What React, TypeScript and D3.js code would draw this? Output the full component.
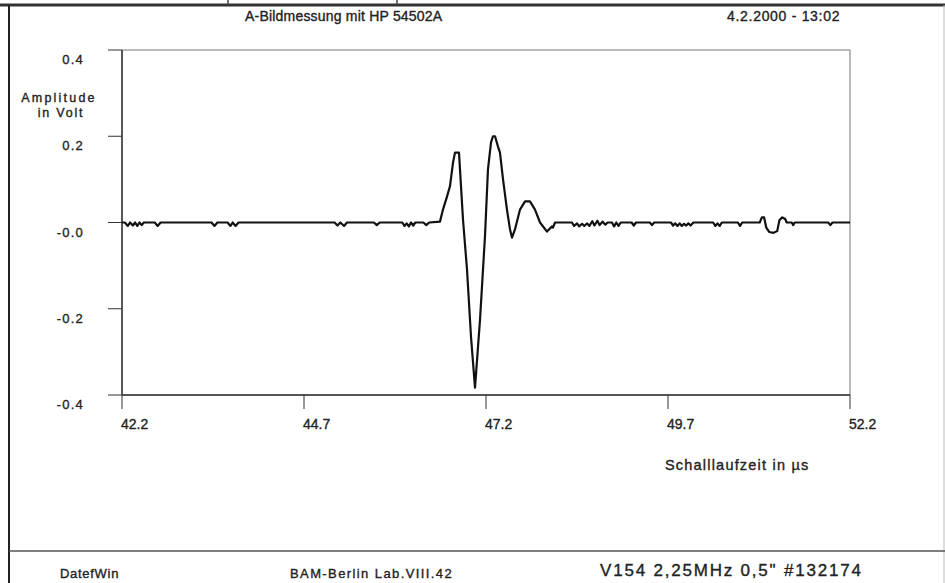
import { useEffect, useRef } from 'react';
import * as d3 from 'd3';

// A-scan (ultrasonic echo) as plotted by DatefWin.

const WIDTH = 945;
const HEIGHT = 583;
const PLOT = { left: 122, right: 850, top: 50, bottom: 395 } as const;

const X_TICKS = [42.2, 44.7, 47.2, 49.7, 52.2];
const Y_TICKS = [0.4, 0.2, 0, -0.2, -0.4];
const Y_TICK_LABELS = ['0.4', '0.2', '-0.0', '-0.2', '-0.4'];

// [time in µs, amplitude in V]
const PRE_NOISE: [number, number][] = [
  [42.2, 0], [42.24, 0], [42.28, -0.008], [42.31, 0], [42.35, -0.007], [42.38, 0],
  [42.41, -0.008], [42.44, 0], [42.47, -0.006], [42.5, 0],
  [42.65, 0], [42.69, -0.008], [42.73, 0],
  [43.43, 0], [43.47, -0.008], [43.51, 0],
  [43.65, 0], [43.69, -0.008], [43.72, 0], [43.76, -0.008], [43.8, 0],
  [45.12, 0], [45.16, -0.007], [45.2, 0], [45.25, -0.008], [45.29, 0],
  [45.66, 0], [45.7, -0.006], [45.74, 0],
  [46.05, 0], [46.08, -0.008], [46.11, -0.002], [46.14, -0.009], [46.17, 0],
  [46.2, -0.007], [46.23, 0],
  [46.34, 0], [46.38, -0.006], [46.42, 0],
];

const PULSE: [number, number][] = [
  [46.568, 0.002], [46.609, 0.03], [46.664, 0.06], [46.705, 0.084], [46.747, 0.139],
  [46.774, 0.162], [46.829, 0.162], [46.884, 0.007], [46.939, -0.109], [46.994, -0.265],
  [47.049, -0.383], [47.118, -0.225], [47.186, -0.032], [47.227, 0.123], [47.269, 0.186],
  [47.296, 0.2], [47.324, 0.2], [47.365, 0.176], [47.392, 0.162], [47.434, 0.1],
  [47.488, 0.03], [47.53, -0.016], [47.557, -0.035], [47.598, -0.016], [47.667, 0.03],
  [47.736, 0.049], [47.804, 0.049], [47.873, 0.03], [47.942, 0], [48.038, -0.021],
  [48.107, -0.009], [48.12, -0.012], [48.148, 0],
];

const TAIL_NOISE: [number, number][] = [
  [48.38, 0], [48.41, -0.008], [48.45, -0.002], [48.48, -0.009], [48.52, -0.003],
  [48.55, -0.008], [48.59, -0.002], [48.62, -0.008], [48.66, 0.003], [48.69, -0.007],
  [48.73, 0.004], [48.76, -0.006], [48.8, 0.002], [48.84, -0.005], [48.87, 0],
  [48.93, 0], [48.96, -0.009], [48.99, 0], [49.02, -0.008], [49.05, 0],
  [49.2, 0], [49.23, -0.007], [49.26, 0],
  [49.45, 0], [49.48, -0.006], [49.51, 0],
  [49.74, 0], [49.77, -0.007], [49.8, -0.002], [49.83, -0.008], [49.86, -0.002],
  [49.89, -0.008], [49.92, -0.003], [49.95, -0.007], [49.98, -0.002], [50.01, -0.007],
  [50.05, 0],
  [50.32, 0], [50.35, -0.008], [50.38, -0.002], [50.41, -0.008], [50.44, 0],
  [50.66, 0], [50.69, -0.008], [50.72, 0],
  [50.96, 0], [50.99, 0.012], [51.02, 0.012], [51.05, -0.012], [51.09, -0.022],
  [51.15, -0.024], [51.2, -0.02], [51.23, 0.005], [51.27, 0.012], [51.31, 0.008],
  [51.33, 0],
  [51.4, 0], [51.42, -0.006], [51.44, 0],
  [51.9, 0], [51.93, -0.006], [51.96, 0], [52.2, 0],
];

const FONT = '"Liberation Sans", Arial, sans-serif';
const INK = '#222222';

export default function App() {
  const svgRef = useRef<SVGSVGElement | null>(null);

  useEffect(() => {
    const svgEl = svgRef.current;
    if (!svgEl) return;
    const svg = d3.select(svgEl);
    svg.selectAll('*').remove();

    const xScale = d3.scaleLinear().domain([42.2, 52.2]).range([PLOT.left, PLOT.right]);
    const yScale = d3.scaleLinear().domain([-0.4, 0.4]).range([PLOT.bottom, PLOT.top]);

    svg.append('rect').attr('width', WIDTH).attr('height', HEIGHT).attr('fill', '#ffffff');

    // ---- page frame ---------------------------------------------------------
    svg.append('line').attr('x1', 0).attr('x2', WIDTH).attr('y1', 5).attr('y2', 5)
      .attr('stroke', '#333').attr('stroke-width', 3);
    [228, 397].forEach((x) => {
      svg.append('line').attr('x1', x).attr('x2', x).attr('y1', 0).attr('y2', 5)
        .attr('stroke', '#444').attr('stroke-width', 1.5);
    });
    svg.append('line').attr('x1', 9).attr('x2', 9).attr('y1', 5).attr('y2', HEIGHT)
      .attr('stroke', '#222').attr('stroke-width', 2);
    svg.append('line').attr('x1', 944).attr('x2', 944).attr('y1', 5).attr('y2', HEIGHT)
      .attr('stroke', '#bbb').attr('stroke-width', 1);
    svg.append('line').attr('x1', 9).attr('x2', WIDTH).attr('y1', 551).attr('y2', 551)
      .attr('stroke', '#555').attr('stroke-width', 1.5);

    // scanned print: text is a little heavier than a plain regular weight
    const text = (x: number, y: number, s: string, size: number,
      anchor = 'start', spacing = 0) =>
      svg.append('text').attr('x', x).attr('y', y).attr('font-family', FONT)
        .attr('font-size', size).attr('fill', INK).attr('text-anchor', anchor)
        .attr('stroke', INK).attr('stroke-width', 0.35)
        .attr('letter-spacing', spacing).text(s);

    // ---- header / footer ----------------------------------------------------
    text(245, 21, 'A-Bildmessung mit HP 54502A', 14, 'start', 0.2);
    text(727, 21, '4.2.2000 - 13:02', 14, 'start', 0.7);
    text(60, 578, 'DatefWin', 13, 'start', 0.7);
    text(290, 578, 'BAM-Berlin Lab.VIII.42', 13, 'start', 1.4);
    text(600, 576, 'V154 2,25MHz 0,5" #132174', 17, 'start', 1.8);

    // ---- plot box -----------------------------------------------------------
    svg.append('line').attr('x1', PLOT.left).attr('x2', PLOT.right)
      .attr('y1', PLOT.top).attr('y2', PLOT.top).attr('stroke', '#777').attr('stroke-width', 1);
    svg.append('line').attr('x1', PLOT.right).attr('x2', PLOT.right)
      .attr('y1', PLOT.top).attr('y2', PLOT.bottom).attr('stroke', '#777').attr('stroke-width', 1);
    svg.append('line').attr('x1', PLOT.left).attr('x2', PLOT.left)
      .attr('y1', PLOT.top).attr('y2', PLOT.bottom).attr('stroke', '#222').attr('stroke-width', 1.5);
    svg.append('line').attr('x1', PLOT.left).attr('x2', PLOT.right)
      .attr('y1', PLOT.bottom).attr('y2', PLOT.bottom).attr('stroke', '#555').attr('stroke-width', 2);

    // ---- y axis -------------------------------------------------------------
    Y_TICKS.forEach((d, i) => {
      const y = yScale(d);
      svg.append('line').attr('x1', PLOT.left - 14).attr('x2', PLOT.left)
        .attr('y1', y).attr('y2', y).attr('stroke', '#333').attr('stroke-width', 1);
      text(84, y + 14, Y_TICK_LABELS[i], 13, 'end', 1.2);
    });
    text(59, 102, 'Amplitude', 12.5, 'middle', 2.2);
    text(61, 117, 'in Volt', 12.5, 'middle', 1.8);

    // ---- x axis -------------------------------------------------------------
    X_TICKS.forEach((d) => {
      const x = xScale(d);
      svg.append('line').attr('x1', x).attr('x2', x)
        .attr('y1', PLOT.bottom).attr('y2', PLOT.bottom + 14)
        .attr('stroke', '#333').attr('stroke-width', 1);
      text(x - 1, 429, d.toFixed(1), 14, 'start', 0);
    });
    text(665, 470, 'Schalllaufzeit in µs', 14.5, 'start', 1.2);

    // ---- waveform -----------------------------------------------------------
    const line = d3.line<[number, number]>()
      .x((p) => xScale(p[0]))
      .y((p) => yScale(p[1]));
    svg.append('path')
      .datum([...PRE_NOISE, ...PULSE, ...TAIL_NOISE])
      .attr('fill', 'none')
      .attr('stroke', '#111')
      .attr('stroke-width', 2.2)
      .attr('stroke-linejoin', 'round')
      .attr('d', line);
  }, []);

  return (
    <div style={{ position: 'absolute', left: 0, top: 0 }}>
      <svg
        ref={svgRef}
        width={WIDTH}
        height={HEIGHT}
        viewBox={`0 0 ${WIDTH} ${HEIGHT}`}
        style={{ display: 'block' }}
        role="img"
        aria-label="A-Bildmessung mit HP 54502A: amplitude in volt over sound travel time in microseconds"
      />
    </div>
  );
}
